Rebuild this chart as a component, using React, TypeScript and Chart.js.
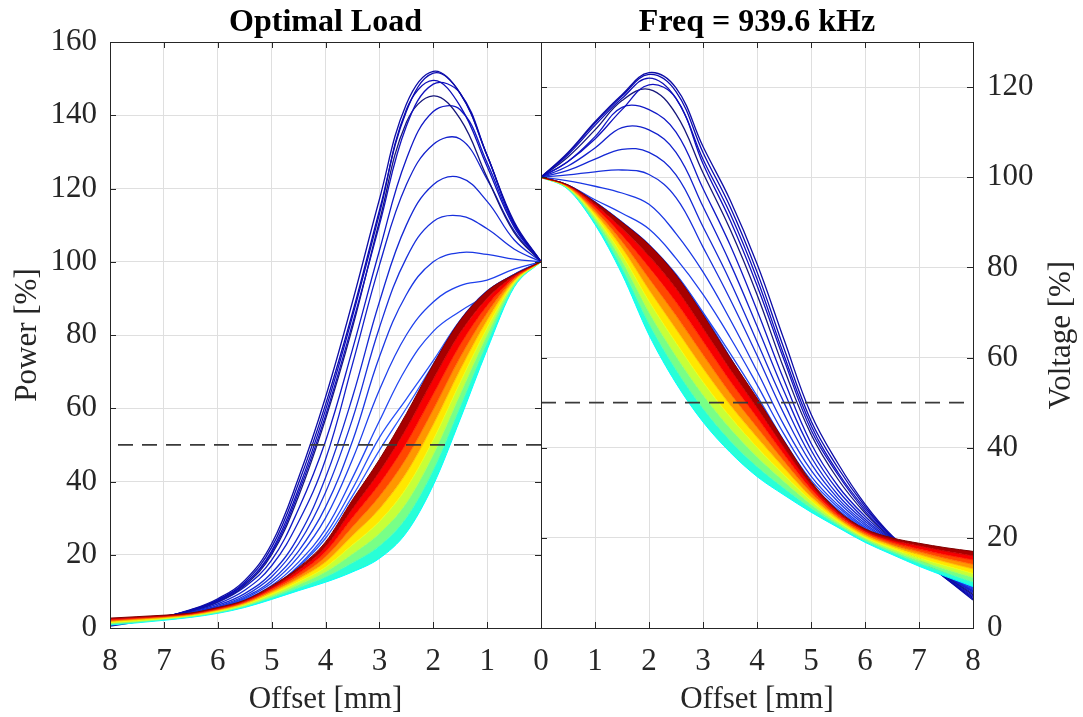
import React, { useEffect, useRef } from 'react';
import { Chart, registerables } from 'chart.js';

Chart.register(...registerables);

// ---------------- data ----------------
const offsetsMm = [0, 0.5, 1, 1.5, 2, 2.5, 3, 3.5, 4, 4.5, 5, 5.5, 6, 6.5, 7, 7.5, 8];
const offsetTicks = [0, 1, 2, 3, 4, 5, 6, 7, 8];
const powerTicks = [0, 20, 40, 60, 80, 100, 120, 140, 160];
const voltageTicks = [0, 20, 40, 60, 80, 100, 120];
const halfLevel = 50;
const panelTitles = ['Optimal Load', 'Freq = 939.6 kHz'];
const xLabel = 'Offset [mm]';
const powerLabel = 'Power [%]';
const voltageLabel = 'Voltage [%]';

// Left panel, blue family (power %, offsets 0..8 mm)
const powerBlue = [
  [100, 111, 129, 146, 152, 143, 117, 89, 63, 41, 23, 13, 8, 5, 3, 1.7, 0.5],
  [100, 110.5, 129, 146, 151.5, 141, 114, 86, 61, 39.5, 22, 12.5, 7.7, 4.9, 3, 1.8, 0.7],
  [100, 109.5, 126, 142.5, 149.5, 141.5, 113, 85, 59.5, 38, 21, 12, 7.5, 4.8, 3, 1.9, 0.8],
  [100, 110.5, 129, 146, 148.5, 137, 110, 83, 58, 37, 20.5, 12, 7.4, 4.8, 3.1, 2, 1],
  [100, 108, 123, 139, 145.3, 138, 111, 82, 57, 36, 20, 11.6, 7.2, 4.7, 3.1, 2, 1],
  [100, 110, 127, 141.5, 141, 128, 103, 76, 51, 32.5, 18.5, 11.2, 7, 4.6, 3.1, 2.1, 1.2],
  [100, 108.5, 122.5, 133.5, 132, 121, 99, 72, 46, 29, 17, 10.3, 6.6, 4.5, 3.1, 2.2, 1.4],
  [100, 106, 116.5, 123, 121, 110, 89, 63, 41, 25, 15, 9.4, 6.2, 4.3, 3.1, 2.3, 1.6],
  [100, 103.5, 109, 112.5, 111, 101, 82, 57, 37, 23, 14, 8.8, 5.9, 4.2, 3.1, 2.4, 1.7],
  [100, 100.7, 102, 102.5, 100, 91, 74, 51, 33, 21, 13, 8.4, 5.7, 4.1, 3.1, 2.4, 1.8],
  [100, 98, 95, 93.5, 89, 80, 65, 46, 30, 19.5, 12.3, 8.1, 5.6, 4.1, 3.1, 2.5, 1.9],
  [100, 96.5, 91, 86.5, 81, 71, 56.5, 41, 27, 18, 11.6, 7.8, 5.4, 4, 3.1, 2.5, 2],
  [100, 96.5, 92, 84, 73, 62.5, 52, 38, 25.5, 17, 11, 7.5, 5.3, 4, 3.2, 2.6, 2.1],
  [100, 96.5, 92, 84, 72, 60, 48.5, 36, 24.5, 16.7, 11, 7.6, 5.4, 4.1, 3.3, 2.7, 2.3],
];

// Left panel, coloured family (dark red -> cyan)
const powerBand = [
  [100, 96.5, 92, 84, 72, 58.5, 46, 35, 23.5, 16.5, 11.5, 7.6, 5.6, 4.1, 3.5, 3.1, 2.7],
  [100, 96.1, 90, 80.6, 67.9, 54.4, 42.6, 32.5, 22.1, 15.7, 11, 7.4, 5.4, 4, 3.3, 2.9, 2.5],
  [100, 95.6, 88, 77.3, 63.8, 50.4, 39.3, 30.1, 20.8, 14.9, 10.6, 7.1, 5.2, 3.8, 3.2, 2.7, 2.2],
  [100, 95.2, 86, 73.9, 59.6, 46.3, 35.9, 27.6, 19.4, 14.1, 10.1, 6.9, 5, 3.7, 3, 2.5, 2],
  [100, 94.8, 84, 70.5, 55.5, 42.3, 32.5, 25.2, 18, 13.4, 9.7, 6.6, 4.8, 3.5, 2.8, 2.3, 1.8],
  [100, 94.3, 82, 67.1, 51.4, 38.2, 29.1, 22.7, 16.6, 12.6, 9.2, 6.4, 4.6, 3.4, 2.6, 2, 1.5],
  [100, 93.9, 80, 63.8, 47.3, 34.1, 25.8, 20.2, 15.3, 11.8, 8.7, 6.1, 4.4, 3.2, 2.5, 1.8, 1.3],
  [100, 93.4, 78, 60.4, 43.1, 30.1, 22.4, 17.8, 13.9, 11, 8.3, 5.9, 4.2, 3.1, 2.3, 1.6, 1],
  [100, 93, 76, 57, 39, 26, 19, 15.3, 12.5, 10.2, 7.8, 5.6, 4, 2.9, 2.1, 1.4, 0.8],
];

// Right panel, blue family (voltage %, offsets 0..8 mm)
const voltageBlue = [
  [100, 105.5, 112.3, 118.3, 123.2, 119.8, 106.8, 95, 80.8, 64, 47.5, 36.5, 27.5, 20.5, 15.8, 11, 6.2],
  [100, 105.3, 112, 118, 122.8, 119, 105.5, 93.5, 79, 62, 46, 35.5, 27, 20.3, 15.6, 11, 6.5],
  [100, 105, 111.5, 117.5, 122, 117.5, 104, 92, 77.5, 60.5, 45, 34.5, 26.5, 20.2, 15.5, 11.1, 6.8],
  [100, 103.5, 108.5, 115, 120.5, 117.5, 103, 90.5, 76, 59.5, 44, 34, 26, 20, 15.4, 11.2, 7.1],
  [100, 104.5, 110.5, 117, 119.5, 114, 101, 88.5, 74, 57.5, 43, 33, 25.5, 19.8, 15.3, 11.3, 7.4],
  [100, 103.5, 109, 115.5, 115, 110, 97.5, 85, 70.5, 55, 41, 31.5, 24.8, 19.6, 15.2, 11.4, 7.7],
  [100, 102.5, 106.5, 111, 110.5, 105.5, 93.5, 81, 67, 52.5, 39.5, 30.5, 24.2, 19.4, 15.2, 11.5, 8],
  [100, 101.5, 104, 106.2, 105.5, 100.5, 89, 77, 63.5, 50, 38, 29.5, 23.7, 19.2, 15.2, 11.6, 8.2],
  [100, 100.5, 101.2, 101.6, 100.6, 95.5, 84.5, 73, 60.5, 47.5, 36.5, 28.7, 23.2, 19, 15.2, 11.7, 8.4],
  [100, 99.2, 98, 96.5, 94, 87.5, 79, 68.5, 57, 45, 35, 28, 22.8, 18.8, 15.2, 11.8, 8.6],
  [100, 98.2, 95, 92, 88.5, 82, 74, 64.5, 54, 43, 33.7, 27.3, 22.4, 18.6, 15.2, 11.9, 8.8],
  [100, 98.2, 94.5, 90, 85, 78.5, 70, 61, 51.5, 41.5, 32.8, 26.8, 22.1, 18.5, 15.2, 12, 9],
  [100, 98.2, 94.5, 90, 85, 78.3, 69.8, 60, 50.5, 40.5, 32, 26.3, 21.9, 18.4, 15.2, 12.1, 9.1],
  [100, 98.2, 94.5, 90, 85, 78.3, 69.5, 60, 50, 40, 31.5, 26, 21.7, 18.3, 15.2, 12.2, 9.2],
];

// Right panel, coloured family (dark red -> cyan)
const voltageBand = [
  [100, 98.3, 94.5, 90, 85, 78.3, 69.5, 60, 51, 41.5, 32.5, 26, 22, 20, 18.8, 17.8, 17],
  [100, 98.2, 93.9, 88.6, 82.5, 75.3, 66.5, 57.4, 48.8, 40, 31.7, 25.5, 21.6, 19.5, 18.2, 17, 16],
  [100, 98.1, 93.3, 87.1, 80, 72.3, 63.6, 54.8, 46.7, 38.5, 30.8, 25.1, 21.3, 19.1, 17.5, 16.2, 15.1],
  [100, 97.9, 92.6, 85.7, 77.5, 69.3, 60.6, 52.1, 44.5, 37, 30, 24.6, 20.9, 18.6, 16.9, 15.4, 14.1],
  [100, 97.8, 92, 84.3, 75, 66.3, 57.6, 49.5, 42.3, 35.5, 29.1, 24.2, 20.5, 18.2, 16.3, 14.6, 13.1],
  [100, 97.7, 91.4, 82.8, 72.5, 63.3, 54.6, 46.9, 40.1, 34, 28.3, 23.7, 20.1, 17.7, 15.6, 13.8, 12.1],
  [100, 97.6, 90.8, 81.4, 70, 60.3, 51.7, 44.3, 38, 32.5, 27.4, 23.2, 19.8, 17.2, 15, 13, 11.2],
  [100, 97.4, 90.1, 79.9, 67.5, 57.3, 48.7, 41.6, 35.8, 31, 26.6, 22.8, 19.4, 16.8, 14.4, 12.2, 10.2],
  [100, 97.3, 89.5, 78.5, 65, 54.3, 45.7, 39, 33.6, 29.5, 25.7, 22.3, 19, 16.3, 13.7, 11.4, 9.2],
];

// ---------------- styles ----------------
const FONT = '"Liberation Serif", "Times New Roman", Times, serif';
const TEXT = '#262626';
const GRID = '#dfdfdf';
const FONT_SIZE = 31;
const TITLE_SIZE = 32;
const blueShades = [
  '#0c0ca6', '#0a0ab0', '#0e0eb8', '#1010bf', '#16167a', '#1018c6', '#1220cc',
  '#1428d4', '#1830dc', '#1a38e4', '#1e40ec', '#2248f2', '#2650f8', '#2a58ff',
];

function jet(v: number) {
  const c = (t: number) => Math.round(255 * Math.max(0, Math.min(1, 1.5 - Math.abs(t))));
  return `rgb(${c(4 * v - 3)},${c(4 * v - 2)},${c(4 * v - 1)})`;
}

function pts(row: number[]) {
  return offsetsMm.map((x, i) => ({ x, y: row[i] }));
}

function makeConfig(side: 'left' | 'right'): any {
  const isLeft = side === 'left';
  const blue = isLeft ? powerBlue : voltageBlue;
  const band = isLeft ? powerBand : voltageBand;
  const yTicks = isLeft ? powerTicks : voltageTicks;
  const datasets: any[] = [];

  datasets.push({
    data: [{ x: 0, y: halfLevel }, { x: 8, y: halfLevel }],
    borderColor: '#3a3a3a',
    borderWidth: 1.6,
    borderDash: [15, 9],
    pointRadius: 0,
    fill: false,
    order: -1,
  });

  const n = band.length - 1;
  band.forEach((row, i) => {
    const v = 1 - (i * 0.625) / n;
    const vMid = 1 - ((i - 0.5) * 0.625) / n;
    datasets.push({
      data: pts(row),
      borderColor: jet(v),
      backgroundColor: jet(vMid),
      borderWidth: 1,
      pointRadius: 0,
      cubicInterpolationMode: 'monotone',
      fill: i === 0 ? false : '-1',
      order: 1,
    });
  });

  blue.forEach((row, i) => {
    datasets.push({
      data: pts(row),
      borderColor: blueShades[i % blueShades.length],
      borderWidth: 1.3,
      pointRadius: 0,
      tension: 0.4,
      fill: false,
      order: 2,
    });
  });

  const decor = {
    id: 'decor' + side,
    afterDatasetsDraw(chart: any) {
      const { ctx, chartArea: a, scales } = chart;
      ctx.save();
      ctx.strokeStyle = TEXT;
      ctx.lineWidth = 1;
      const tl = 6;
      ctx.beginPath();
      yTicks.forEach((val) => {
        const y = Math.round(scales.y.getPixelForValue(val)) + 0.5;
        ctx.moveTo(a.left, y);
        ctx.lineTo(a.left + tl, y);
        ctx.moveTo(a.right, y);
        ctx.lineTo(a.right - tl, y);
      });
      offsetTicks.forEach((val) => {
        const x = Math.round(scales.x.getPixelForValue(val)) + 0.5;
        ctx.moveTo(x, a.bottom);
        ctx.lineTo(x, a.bottom - tl);
        ctx.moveTo(x, a.top);
        ctx.lineTo(x, a.top + tl);
      });
      ctx.stroke();
      ctx.strokeRect(a.left + 0.5, a.top + 0.5, a.right - a.left, a.bottom - a.top);
      ctx.restore();
    },
    afterDraw(chart: any) {
      const { ctx, chartArea: a } = chart;
      const cx = (a.left + a.right) / 2;
      const cy = (a.top + a.bottom) / 2;
      ctx.save();
      ctx.textAlign = 'center';
      ctx.textBaseline = 'alphabetic';
      ctx.fillStyle = '#000';
      ctx.font = `bold ${TITLE_SIZE}px ${FONT}`;
      ctx.fillText(isLeft ? panelTitles[0] : panelTitles[1], cx, 31);
      ctx.fillStyle = TEXT;
      ctx.font = `${FONT_SIZE}px ${FONT}`;
      ctx.fillText(xLabel, cx, 708);
      ctx.translate(isLeft ? a.left - 74 : a.right + 97, cy);
      ctx.rotate(-Math.PI / 2);
      ctx.fillText(isLeft ? powerLabel : voltageLabel, 0, 0);
      ctx.restore();
    },
  };

  return {
    type: 'line',
    data: { datasets },
    options: {
      responsive: false,
      animation: false,
      devicePixelRatio: 1,
      layout: {
        padding: isLeft
          ? { left: 0, right: 19, top: 42, bottom: 0 }
          : { left: 19, right: 0, top: 42, bottom: 0 },
      },
      plugins: {
        legend: { display: false },
        tooltip: { enabled: false },
        title: { display: false },
      },
      scales: {
        x: {
          type: 'linear',
          min: 0,
          max: 8,
          reverse: isLeft,
          afterBuildTicks: (s: any) => {
            s.ticks = offsetTicks.map((val) => ({ value: val }));
          },
          afterFit: (s: any) => {
            s.height = 89;
          },
          grid: { color: GRID, lineWidth: 1, drawTicks: false },
          border: { display: false },
          ticks: {
            font: { family: FONT, size: FONT_SIZE },
            color: TEXT,
            padding: 15,
            maxRotation: 0,
            autoSkip: false,
            callback: (val: any) => (!isLeft && Number(val) === 0 ? '' : String(val)),
          },
        },
        y: {
          type: 'linear',
          position: isLeft ? 'left' : 'right',
          min: 0,
          max: isLeft ? 160 : 130,
          afterBuildTicks: (s: any) => {
            s.ticks = yTicks.map((val) => ({ value: val }));
          },
          afterFit: (s: any) => {
            s.width = 110;
          },
          grid: { color: GRID, lineWidth: 1, drawTicks: false },
          border: { display: false },
          ticks: {
            font: { family: FONT, size: FONT_SIZE },
            color: TEXT,
            padding: isLeft ? 13 : 14,
            callback: (val: any) => String(val),
          },
        },
      },
    },
    plugins: [decor],
  };
}

export default function App() {
  const leftRef = useRef<HTMLCanvasElement>(null);
  const rightRef = useRef<HTMLCanvasElement>(null);
  useEffect(() => {
    const a = new Chart(leftRef.current as HTMLCanvasElement, makeConfig('left'));
    const b = new Chart(rightRef.current as HTMLCanvasElement, makeConfig('right'));
    return () => {
      a.destroy();
      b.destroy();
    };
  }, []);
  return (
    <div
      style={{
        position: 'absolute',
        left: 0,
        top: 0,
        width: 1083,
        height: 717,
        background: '#fff',
        overflow: 'hidden',
      }}
    >
      <canvas
        ref={leftRef}
        width={560}
        height={717}
        style={{ position: 'absolute', left: 0, top: 0, width: 560, height: 717 }}
      />
      <canvas
        ref={rightRef}
        width={561}
        height={717}
        style={{ position: 'absolute', left: 522, top: 0, width: 561, height: 717 }}
      />
    </div>
  );
}
